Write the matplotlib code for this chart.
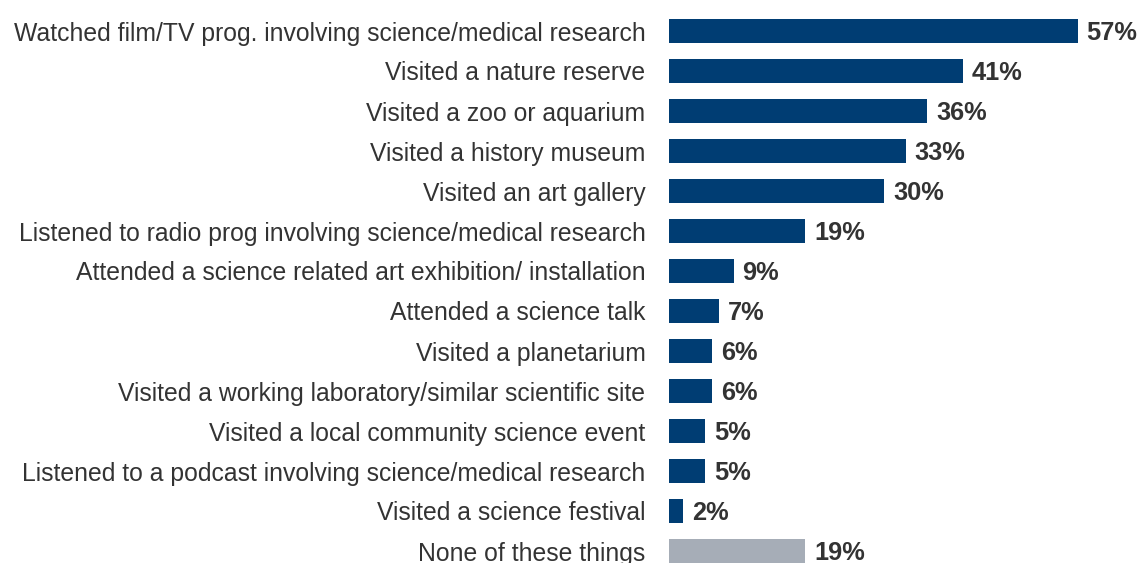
import matplotlib.pyplot as plt

activities = [
    "Watched film/TV prog. involving science/medical research",
    "Visited a nature reserve",
    "Visited a zoo or aquarium",
    "Visited a history museum",
    "Visited an art gallery",
    "Listened to radio prog involving science/medical research",
    "Attended a science related art exhibition/ installation",
    "Attended a science talk",
    "Visited a planetarium",
    "Visited a working laboratory/similar scientific site",
    "Visited a local community science event",
    "Listened to a podcast involving science/medical research",
    "Visited a science festival",
    "None of these things",
]
percent = [57, 41, 36, 33, 30, 19, 9, 7, 6, 6, 5, 5, 2, 19]

navy = "#003d73"
grey = "#a6adb7"
text_col = "#333333"

plt.rcParams["font.family"] = ["Liberation Sans", "DejaVu Sans"]

fig = plt.figure(figsize=(11.41, 5.63), dpi=100)
ax = fig.add_axes([669 / 1141, 0, (1141 - 669) / 1141, 1])

colors = [navy] * (len(percent) - 1) + [grey]
rows = list(range(len(percent)))
ax.barh(rows, percent, height=0.6, color=colors)

for r, v in zip(rows, percent):
    ax.text(v + 1.25, r, f"{v}%", va="center_baseline", ha="left",
            fontsize=18.3, fontweight="bold", color=text_col)

ax.set_yticks(rows)
ax.set_yticklabels(activities, fontsize=17.8, color=text_col,
                   va="center_baseline")
ax.tick_params(axis="y", length=0, pad=17)
ax.set_xticks([])
ax.set_xlim(0, (1141 - 669) / 7.17)
ax.set_ylim(13.3, -0.775)
for s in ax.spines.values():
    s.set_visible(False)

fig.savefig("out.png", dpi=100)
